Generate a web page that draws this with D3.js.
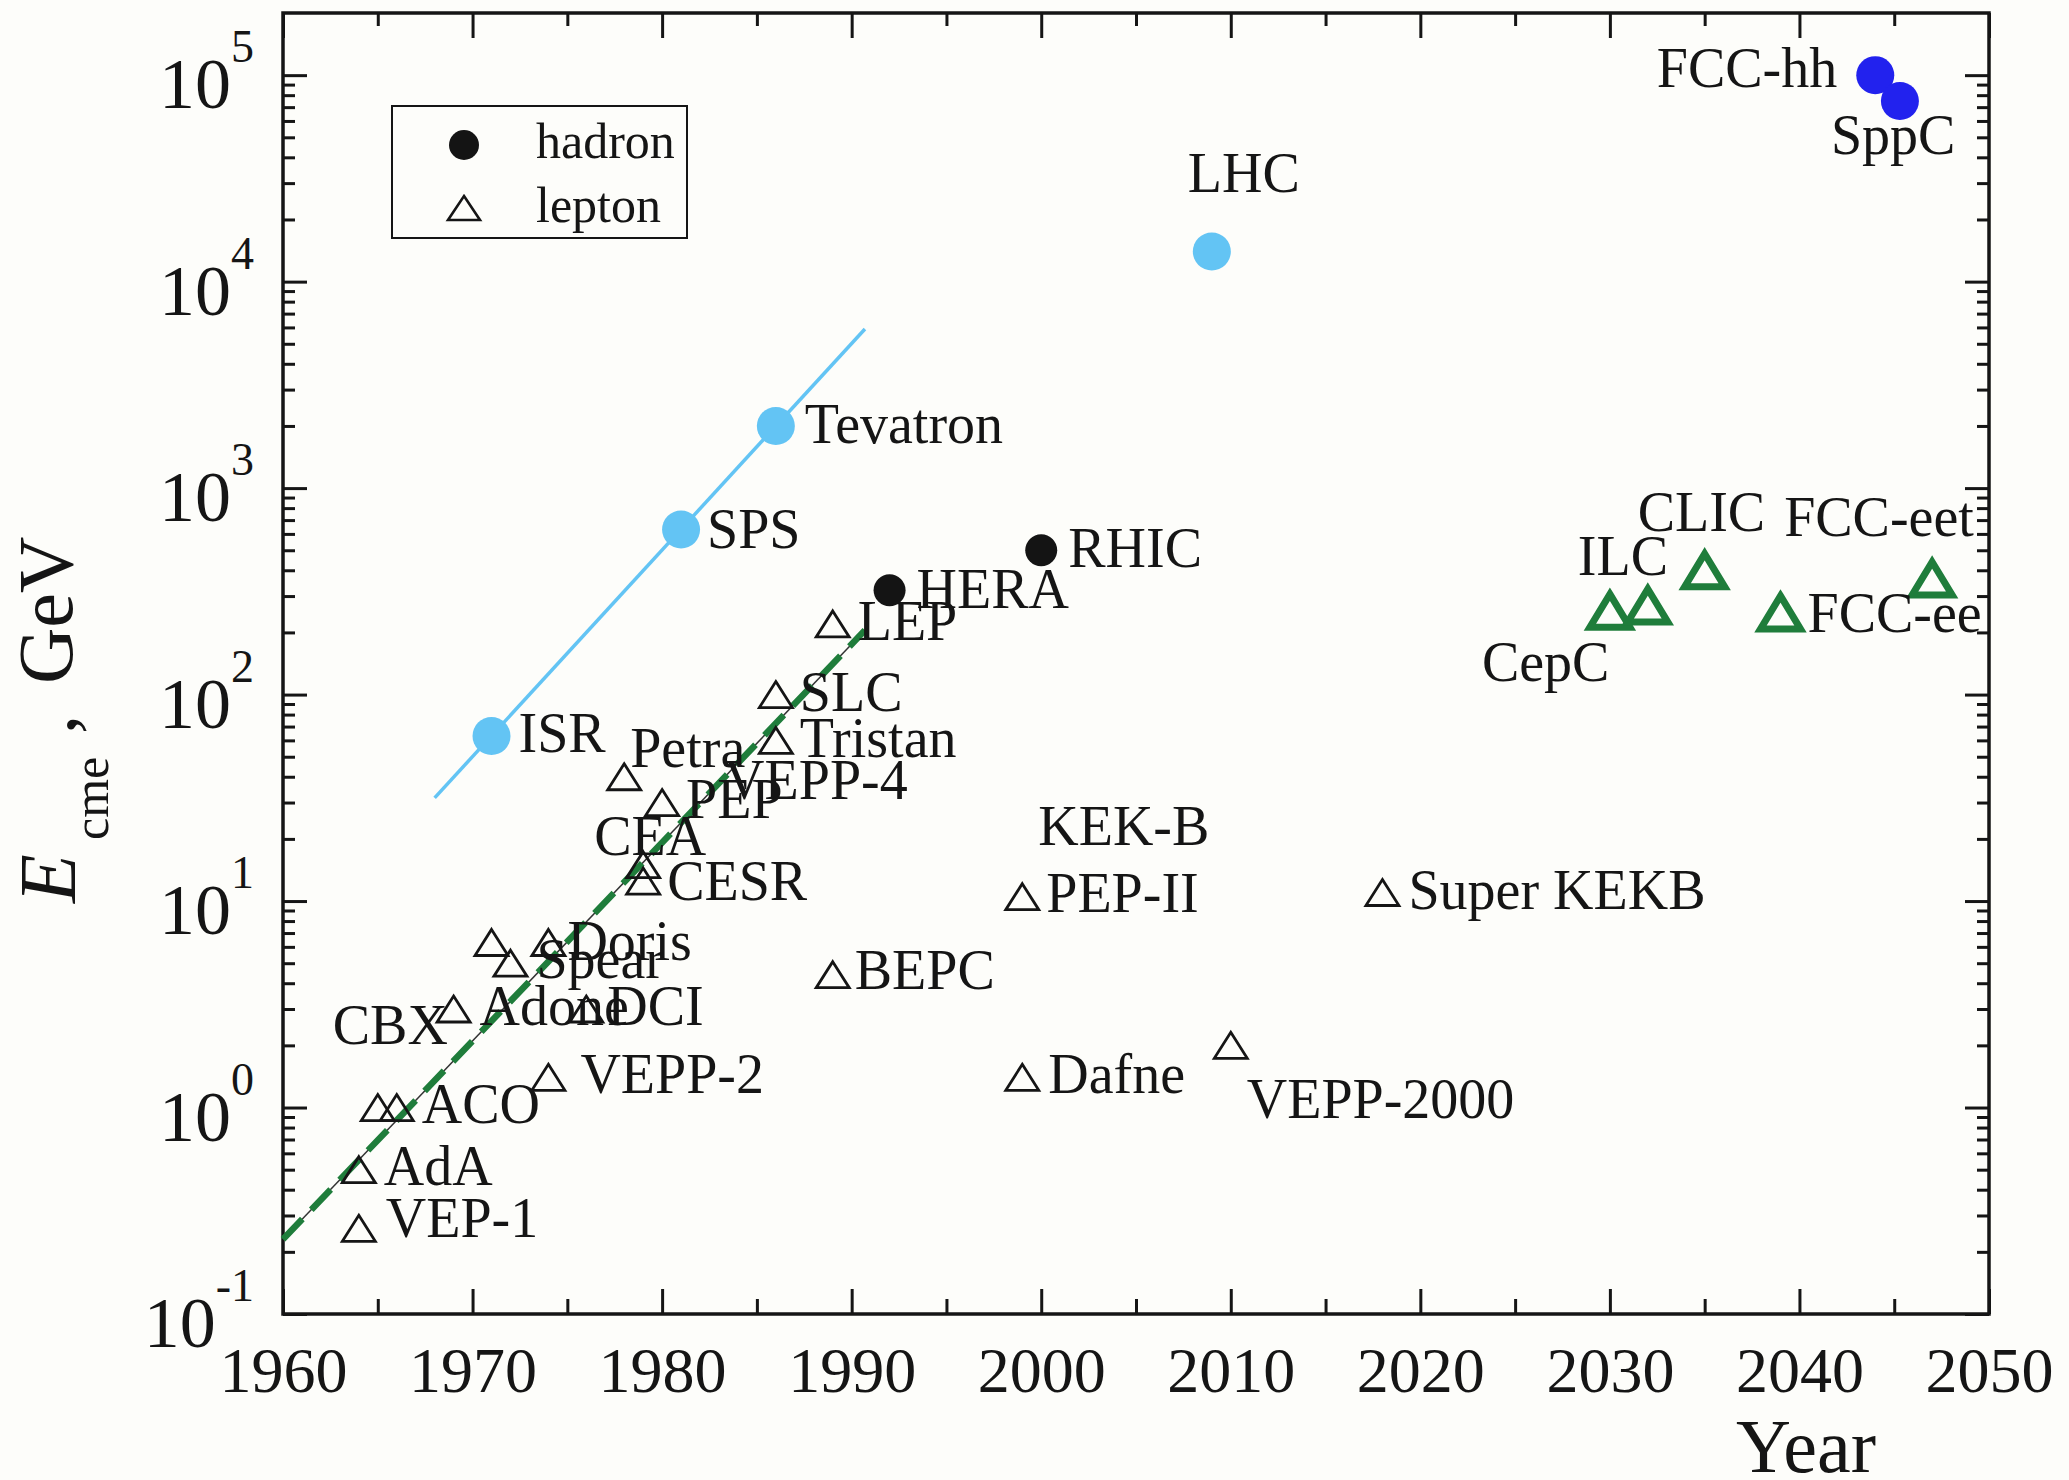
<html>
<head>
  <meta charset="utf-8">
  <title>Collider energy vs year</title>
  <script src="https://d3js.org/d3.v7.min.js"></script>
  <style>
    body { margin: 0; background: #fdfdfa; }
    text { font-family: "Liberation Serif", "Times New Roman", serif; fill: #151515; }
    .axis path.domain { display: none; }
    .axis line { stroke: #151515; stroke-width: 3; }
    .axis text { font-family: "Liberation Serif", serif; font-size: 64px; fill: #151515; }
    .label { font-size: 56px; }
  </style>
</head>
<body>
  <svg id="chart" width="2069" height="1480"></svg>
  <script>
    // hadron machines (year, centre of mass energy in GeV)
    const hadronNames = ["ISR", "SPS", "Tevatron", "LHC", "HERA", "RHIC", "FCC-hh", "SppC"];
    const hadronYears = [1971, 1981, 1986, 2009, 1992, 2000, 2044, 2045.3];
    const hadronEnergy = [63, 630, 2000, 14000, 320, 500, 100000, 75000];
    const hadronKind = ["pp", "pp", "pp", "pp", "other", "other", "future", "future"];

    // lepton machines
    const leptonNames = ["VEP-1", "AdA", "CBX", "ACO", "Adone", "", "Spear", "Doris", "VEPP-2", "DCI",
      "Petra", "CEA", "CESR", "PEP", "SLC", "Tristan", "LEP", "BEPC", "PEP-II", "Dafne", "VEPP-2000", "Super KEKB"];
    const leptonYears = [1964, 1964, 1965, 1966, 1969, 1971, 1972, 1974, 1974, 1976,
      1978, 1979, 1979, 1980, 1986, 1986, 1989, 1989, 1999, 1999, 2010, 2018];
    const leptonEnergy = [0.26, 0.5, 1.0, 1.0, 3.0, 6.3, 5.0, 6.3, 1.4, 3.0,
      40, 15, 12.5, 30, 100, 60, 220, 4.4, 10.5, 1.4, 2.0, 11];

    // planned lepton machines (green)
    const futureNames = ["CepC", "ILC", "CLIC", "FCC-ee", "FCC-eet"];
    const futureYears = [2030, 2032, 2035, 2039, 2047];
    const futureEnergy = [255, 270, 400, 250, 365];

    // trend lines
    const hadronTrendYears = [1968, 1990.7];
    const hadronTrendEnergy = [31.6, 5900];
    const leptonTrendYears = [1960, 1990.7];
    const leptonTrendEnergy = [0.23, 205];

    // axis ticks
    const xTickYears = [1960, 1970, 1980, 1990, 2000, 2010, 2020, 2030, 2040, 2050];
    const yTickExp = [-1, 0, 1, 2, 3, 4, 5];

    // label offsets from their marker (px), optional anchor
    const labelLayout = {
      "ISR": [27, 16], "SPS": [26, 18], "Tevatron": [29, 17], "LHC": [-24, -59],
      "HERA": [27, 18], "RHIC": [27, 17], "FCC-hh": [-38, 12, "end"], "SppC": [-69, 53],
      "VEP-1": [27, 9], "AdA": [25, 15], "CBX": [-45, -64], "ACO": [25, 15], "Adone": [26, 16],
      "Spear": [26, 15], "Doris": [19, 18], "VEPP-2": [32, 16], "DCI": [21, 16], "Petra": [6, -10],
      "CEA": [-49, -10], "CESR": [24, 19], "PEP": [24, 15], "SLC": [24, 16], "Tristan": [24, 17],
      "LEP": [25, 16], "BEPC": [22, 14], "PEP-II": [24, 15], "Dafne": [26, 16], "VEPP-2000": [16, 73],
      "Super KEKB": [26, 16], "VEPP-4": [62, -4], "KEK-B": [16, -52],
      "CepC": [-128, 70], "ILC": [-70, -31], "CLIC": [-67, -39], "FCC-ee": [27, 20], "FCC-eet": [-148, -42]
    };
    const extraLabels = [["VEPP-4", "PEP"], ["KEK-B", "PEP-II"]];

    const colors = { pp: "#63c4f4", other: "#141414", future: "#2222ee" };
    const green = "#1f7d3b";

    const svg = d3.select("svg#chart");
    const plotLeft = 283, plotRight = 1989, plotTop = 13, plotBottom = 1314;

    const x = d3.scaleLinear().domain([1960, 2050]).range([plotLeft, plotRight]);
    const y = d3.scaleLog().domain([0.1, 2e5]).range([plotBottom, plotTop]);

    svg.append("rect").attr("width", 2069).attr("height", 1480).attr("fill", "#fdfdfa");

    // ---- axes ----
    const minorYears = d3.range(1965, 2050, 10);
    const minorE = [];
    yTickExp.slice(0, -1).forEach(e => {
      for (let k = 2; k <= 9; k++) minorE.push(k * Math.pow(10, e));
    });
    const majorE = yTickExp.map(e => Math.pow(10, e));

    svg.append("g").attr("class", "axis")
      .attr("transform", `translate(0,${plotBottom})`)
      .call(d3.axisBottom(x).tickValues(xTickYears).tickFormat(d3.format("d"))
        .tickSizeInner(-25).tickSizeOuter(0).tickPadding(33));
    svg.append("g").attr("class", "axis")
      .attr("transform", `translate(0,${plotBottom})`)
      .call(d3.axisBottom(x).tickValues(minorYears).tickFormat("").tickSizeInner(-15).tickSizeOuter(0));
    svg.append("g").attr("class", "axis")
      .attr("transform", `translate(0,${plotTop})`)
      .call(d3.axisTop(x).tickValues(xTickYears).tickFormat("").tickSizeInner(-25).tickSizeOuter(0));
    svg.append("g").attr("class", "axis")
      .attr("transform", `translate(0,${plotTop})`)
      .call(d3.axisTop(x).tickValues(minorYears).tickFormat("").tickSizeInner(-13).tickSizeOuter(0));

    svg.append("g").attr("class", "axis")
      .attr("transform", `translate(${plotLeft},0)`)
      .call(d3.axisLeft(y).tickValues(majorE).tickFormat("").tickSizeInner(-24).tickSizeOuter(0));
    svg.append("g").attr("class", "axis")
      .attr("transform", `translate(${plotLeft},0)`)
      .call(d3.axisLeft(y).tickValues(minorE).tickFormat("").tickSizeInner(-12).tickSizeOuter(0));
    svg.append("g").attr("class", "axis")
      .attr("transform", `translate(${plotRight},0)`)
      .call(d3.axisRight(y).tickValues(majorE).tickFormat("").tickSizeInner(-24).tickSizeOuter(0));
    svg.append("g").attr("class", "axis")
      .attr("transform", `translate(${plotRight},0)`)
      .call(d3.axisRight(y).tickValues(minorE).tickFormat("").tickSizeInner(-12).tickSizeOuter(0));

    // y tick labels 10^n
    const yLabels = svg.append("g").selectAll("text").data(yTickExp).join("text")
      .attr("x", plotLeft - 29)
      .attr("y", e => y(Math.pow(10, e)) + 33)
      .attr("text-anchor", "end")
      .style("font-size", "72px");
    yLabels.append("tspan").text("10");
    yLabels.append("tspan").attr("dy", -46).style("font-size", "46px").text(e => String(e));

    // frame
    svg.append("rect")
      .attr("x", plotLeft).attr("y", plotTop)
      .attr("width", plotRight - plotLeft).attr("height", plotBottom - plotTop)
      .attr("fill", "none").attr("stroke", "#151515").attr("stroke-width", 3.5);

    // axis titles
    svg.append("text").attr("x", 1736).attr("y", 1472).style("font-size", "76px").text("Year");

    svg.append("text").attr("transform", "translate(75,903) rotate(-90)")
      .style("font-size", "80px").style("font-style", "italic").text("E");
    svg.append("text").attr("transform", "translate(108,840) rotate(-90)")
      .style("font-size", "50px").text("cme");
    svg.append("text").attr("transform", "translate(75,734) rotate(-90)")
      .style("font-size", "76px").text(",");
    svg.append("text").attr("transform", "translate(72,684) rotate(-90)")
      .style("font-size", "78px").text("GeV");

    // ---- trend lines ----
    const line = d3.line().x(d => x(d[0])).y(d => y(d[1]));
    svg.append("path")
      .attr("d", line(d3.zip(hadronTrendYears, hadronTrendEnergy)))
      .attr("stroke", colors.pp).attr("stroke-width", 3.5).attr("fill", "none");
    svg.append("path")
      .attr("d", line(d3.zip(leptonTrendYears, leptonTrendEnergy)))
      .attr("stroke", "#333").attr("stroke-width", 1.5).attr("fill", "none");
    svg.append("path")
      .attr("d", line(d3.zip(leptonTrendYears, leptonTrendEnergy)))
      .attr("stroke", green).attr("stroke-width", 6.5).attr("stroke-dasharray", "28,13").attr("fill", "none");

    // ---- markers ----
    const tri = (w, h) => `M0,${-h / 2}L${w / 2},${h / 2}L${-w / 2},${h / 2}Z`;

    const hadrons = hadronNames.map((n, i) => ({ name: n, year: hadronYears[i], e: hadronEnergy[i], kind: hadronKind[i] }));
    const leptons = leptonNames.map((n, i) => ({ name: n, year: leptonYears[i], e: leptonEnergy[i] }));
    const future = futureNames.map((n, i) => ({ name: n, year: futureYears[i], e: futureEnergy[i] }));

    svg.append("g").selectAll("circle").data(hadrons).join("circle")
      .attr("cx", d => x(d.year)).attr("cy", d => y(d.e))
      .attr("r", d => d.kind == "other" ? 16 : 19)
      .attr("fill", d => colors[d.kind]);

    svg.append("g").selectAll("path").data(leptons).join("path")
      .attr("transform", d => `translate(${x(d.year)},${y(d.e)})`)
      .attr("d", tri(33, 26))
      .attr("fill", "none").attr("stroke", "#151515").attr("stroke-width", 2.8);

    svg.append("g").selectAll("path").data(future).join("path")
      .attr("transform", d => `translate(${x(d.year)},${y(d.e)})`)
      .attr("d", tri(40, 33))
      .attr("fill", "none").attr("stroke", green).attr("stroke-width", 7);

    // ---- labels ----
    const all = hadrons.concat(leptons, future);
    const byName = {};
    all.forEach(d => { if (d.name) byName[d.name] = d; });
    const labelData = all.filter(d => d.name && labelLayout[d.name])
      .map(d => ({ text: d.name, host: d }))
      .concat(extraLabels.map(p => ({ text: p[0], host: byName[p[1]] })));

    svg.append("g").selectAll("text").data(labelData).join("text")
      .attr("class", "label")
      .attr("x", d => x(d.host.year) + labelLayout[d.text][0])
      .attr("y", d => y(d.host.e) + labelLayout[d.text][1])
      .attr("text-anchor", d => labelLayout[d.text][2] || "start")
      .text(d => d.text);

    // ---- legend ----
    const legend = svg.append("g");
    legend.append("rect").attr("x", 392).attr("y", 106).attr("width", 295).attr("height", 132)
      .attr("fill", "none").attr("stroke", "#151515").attr("stroke-width", 2);
    legend.append("circle").attr("cx", 464).attr("cy", 145).attr("r", 15).attr("fill", "#141414");
    legend.append("path").attr("transform", "translate(464,208)").attr("d", tri(32, 24))
      .attr("fill", "none").attr("stroke", "#151515").attr("stroke-width", 2.6);
    legend.append("text").attr("x", 536).attr("y", 158).style("font-size", "50px").text("hadron");
    legend.append("text").attr("x", 536).attr("y", 222).style("font-size", "50px").text("lepton");
  </script>
</body>
</html>
